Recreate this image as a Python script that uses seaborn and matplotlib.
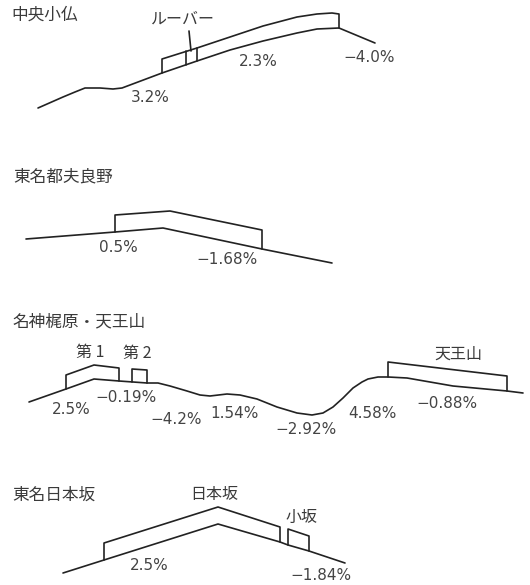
import matplotlib
matplotlib.use('Agg')
import matplotlib.pyplot as plt
import seaborn as sns

sns.set_theme(style='white')
plt.rcParams['font.family'] = ['Noto Sans CJK JP', 'DejaVu Sans']

# profiles, in picture pixels (y grows downwards)
road1_x = [38, 63, 75, 85, 100, 113, 122, 162, 197, 230, 263, 297, 317, 339, 375]
road1_y = [108, 97, 92, 88, 88, 89, 88, 73, 61, 50, 41, 33, 29, 28, 43]
tube1_x = [162, 162, 197, 230, 263, 297, 317, 332, 339, 339]
tube1_y = [73, 59, 48, 37, 26, 17, 14, 13, 14, 28]
louver_x = [186, 186]
louver_y = [51, 65]
louver2_x = [197, 197]
louver2_y = [48, 61]
leader_x = [189, 191]
leader_y = [31, 51]

road2_x = [26, 115, 163, 262, 332]
road2_y = [239, 232, 228, 249, 263]
tube2_x = [115, 115, 170, 262, 262]
tube2_y = [232, 215, 211, 230, 249]

road3_x = [29, 66, 94, 119, 133, 147, 158, 170, 187, 200, 210, 227, 240, 257, 277,
           297, 312, 323, 333, 343, 353, 362, 368, 378, 388, 407, 453, 507, 523]
road3_y = [402, 389, 379, 381, 382, 383, 383, 386, 391, 395, 396, 394, 395, 399, 407,
           413, 415, 413, 407, 398, 388, 382, 379, 377, 377, 378, 386, 391, 393]
dai1_x = [66, 66, 94, 119, 119]
dai1_y = [389, 375, 365, 368, 381]
dai2_x = [132, 132, 147, 147]
dai2_y = [382, 369, 370, 383]
tenno_x = [388, 388, 507, 507]
tenno_y = [377, 362, 376, 391]

road4_x = [63, 104, 218, 280, 288, 309, 345]
road4_y = [573, 560, 524, 542, 545, 551, 563]
nihon_x = [104, 104, 218, 280, 280]
nihon_y = [560, 543, 507, 527, 542]
kosaka_x = [288, 288, 309, 309]
kosaka_y = [545, 529, 536, 551]

lines = [
    (road1_x, road1_y), (tube1_x, tube1_y), (louver_x, louver_y),
    (louver2_x, louver2_y), (leader_x, leader_y),
    (road2_x, road2_y), (tube2_x, tube2_y),
    (road3_x, road3_y), (dai1_x, dai1_y), (dai2_x, dai2_y), (tenno_x, tenno_y),
    (road4_x, road4_y), (nihon_x, nihon_y), (kosaka_x, kosaka_y),
]

names = ['中央小仏', '東名都夫良野', '名神梶原・天王山', '東名日本坂']
names_x = [11, 13, 12, 12]
names_y = [15, 177, 322, 495]

tunnels = ['ルーバー', '第 1', '第 2', '天王山', '日本坂', '小坂']
tunnels_x = [183, 90, 137, 458, 214, 302]
tunnels_y = [19, 352, 353, 354, 495, 517]

grades = ['3.2%', '2.3%', '−4.0%', '0.5%', '−1.68%', '2.5%', '−0.19%', '−4.2%',
          '1.54%', '−2.92%', '4.58%', '−0.88%', '2.5%', '−1.84%']
grades_x = [150, 258, 369, 118, 227, 71, 126, 176, 235, 306, 372, 447, 149, 321]
grades_y = [97, 61, 58, 248, 260, 409, 397, 419, 413, 430, 413, 403, 566, 576]

fig = plt.figure(figsize=(5.3, 5.85), dpi=100)
ax = fig.add_axes([0, 0, 1, 1])

for xs, ys in lines:
    sns.lineplot(x=xs, y=ys, sort=False, estimator=None, color='#222222',
                 linewidth=1.2, ax=ax)

for s, x, y in zip(names, names_x, names_y):
    ax.text(x, y, s, fontsize=12, color='#3a3a3a', ha='left', va='center')
for s, x, y in zip(tunnels, tunnels_x, tunnels_y):
    ax.text(x, y, s, fontsize=11.5, color='#3a3a3a', ha='center', va='center')
for s, x, y in zip(grades, grades_x, grades_y):
    ax.text(x, y, s, fontsize=11, color='#444444', ha='center', va='center',
            family='DejaVu Sans')

ax.set(xlim=(0, 530), ylim=(585, 0))
ax.axis('off')

fig.savefig('out.png', dpi=100)
